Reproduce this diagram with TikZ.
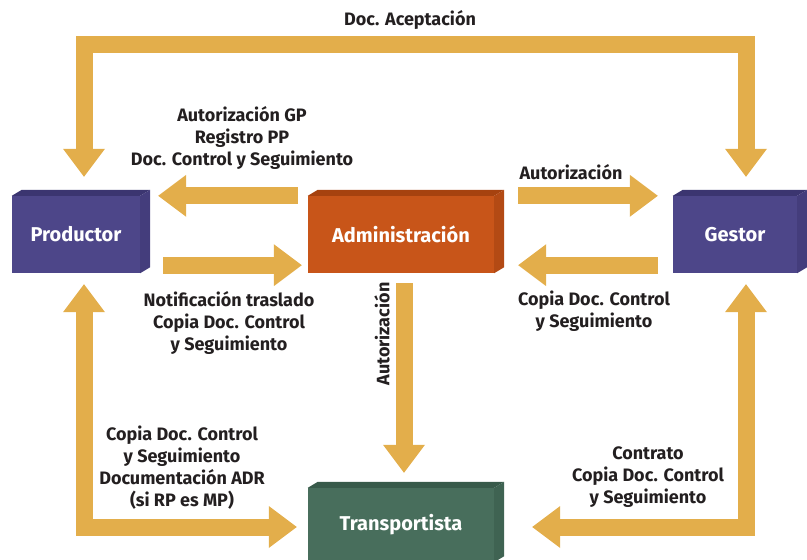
\documentclass[tikz,border=0pt]{standalone}
\usepackage{fontspec}
\setmainfont{Fira Sans}
\usetikzlibrary{arrows.meta,calc}

\definecolor{flow}{HTML}{E3AE4B}
\definecolor{ink}{HTML}{231F20}
\definecolor{purpfront}{HTML}{4D4689}
\definecolor{purptop}{HTML}{3B3570}
\definecolor{purpside}{HTML}{443D7C}
\definecolor{orgfront}{HTML}{C85519}
\definecolor{orgtop}{HTML}{A6420F}
\definecolor{orgside}{HTML}{B34A14}
\definecolor{grnfront}{HTML}{486E5C}
\definecolor{grntop}{HTML}{385A4A}
\definecolor{grnside}{HTML}{3F6352}

\begin{document}
\begin{tikzpicture}[x=1pt,y=-1pt,
  >={Triangle[length=28pt,width=42pt,line width=0pt]},
  ent/.style={minimum height=77pt,inner sep=0pt,text=white,font=\fontsize{20}{22}\selectfont\bfseries},
  fat/.style={draw=flow,line width=17pt,line join=miter,line cap=butt},
  lbl/.style={align=center,text=ink,inner sep=0pt,font=\fontsize{18}{22}\selectfont\bfseries}]
\useasboundingbox (0,0) rectangle (807,560);
% entities (front faces)
\node[ent,fill=purpfront,minimum width=128pt] (prod) at (76,234.5) {Productor};
\node[ent,fill=orgfront,minimum width=186pt] (admin) at (401,234.5) {Administración};
\node[ent,fill=purpfront,minimum width=124pt] (gestor) at (735,234.5) {Gestor};
\node[ent,fill=grnfront,minimum width=186pt,minimum height=74pt] (trans) at (401,525) {Transportista};
% top and side faces
\foreach \n/\t/\s in {prod/purptop/purpside,admin/orgtop/orgside,gestor/purptop/purpside,trans/grntop/grnside}{
  \fill[\t] (\n.north west) -- ++(10,-6) -- ($(\n.north east)+(10,-6)$) -- (\n.north east) -- cycle;
  \fill[\s] (\n.north east) -- ++(10,-6) -- ($(\n.south east)+(10,-6)$) -- (\n.south east) -- cycle;
}
% flows
\draw[fat,<->] ($(prod.north)+(8,-19)$) -- ++(0,-132) -| ($(gestor.north)+(11,-19)$);
\draw[fat,->] ([xshift=-10pt]admin.north west) -- ([xshift=18pt]prod.north east);
\draw[fat,->] ($(prod.south east)+(23,-8)$) -- ($(admin.south west)+(-6,-8)$);
\draw[fat,->] ([xshift=24pt]admin.north east) -- ([xshift=-15pt]gestor.north west);
\draw[fat,->] ($(gestor.south west)+(-15,-8)$) -- ($(admin.south east)+(24,-8)$);
\draw[fat,->] ($(admin.south)+(3,10)$) -- ($(trans.north)+(3,-15)$);
\draw[fat,<->] ($(prod.south)+(8,11)$) |- ($(trans.west)+(-11,2)$);
\draw[fat,<->] ($(gestor.south)+(11,11)$) |- ($(trans.east)+(38,2)$);
% labels
\node[lbl] (acept) at (410,20) {Doc. Aceptación};
\node[lbl] (toprod) at (242,138) {Autorización GP\\Registro PP\\Doc. Control y Seguimiento};
\node[lbl] (togest) at (571,172) {Autorización};
\node[lbl] (fromprod) at (229,323) {Notificación traslado\\Copia Doc. Control\\y Seguimiento};
\node[lbl] (fromgest) at (594,311) {Copia Doc. Control\\y Seguimiento};
\node[lbl,rotate=90] (totrans) at (382,334) {Autorización};
\node[lbl] (prodtrans) at (182,468) {Copia Doc. Control\\y Seguimiento\\Documentación ADR\\(si RP es MP)};
\node[lbl] (gesttrans) at (648,477) {Contrato\\Copia Doc. Control\\y Seguimiento};
\end{tikzpicture}
\end{document}
